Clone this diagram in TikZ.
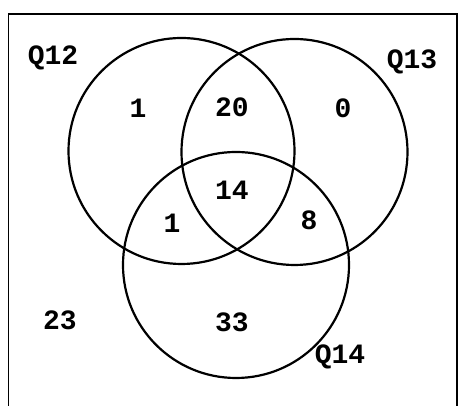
\documentclass[tikz,border=0pt]{standalone}
\usepackage{fontspec}
\newfontfamily\machine{Liberation Mono}
\tikzset{
  ensemble/.style={draw, circle, line width=2.2pt, minimum size=226pt, inner sep=0pt},
  effectif/.style={inner sep=0pt, font=\machine\bfseries\fontsize{28}{30}\selectfont},
}
\begin{document}
\begin{tikzpicture}[x=1pt, y=1pt]
	\useasboundingbox (0,0) rectangle (459,406);
	%Cadre
	\coordinate (BG) at (8.5,0);
	\coordinate (HG) at (8.5,392);
	\coordinate (HD) at (457,392);
	\coordinate (BD) at (457,0);
	\draw[line width=1.8pt] (BG) -- (HG) -- (HD) -- (BD);
	%Ensembles
	\node[ensemble] (C12) at (181.5,255) {};
	\node[ensemble] (C13) at (294.5,254) {};
	\node[ensemble] (C14) at (236,141) {};
	%Noms
	\node[effectif] (Q12) at (53,348) {Q12};
	\node[effectif] (Q13) at (412,344) {Q13};
	\node[effectif] (Q14) at (340,49) {Q14};
	%Effectifs
	\node[effectif] (N12) at (138,298) {1};
	\node[effectif] (N1213) at (232,299) {20};
	\node[effectif] (N13) at (343,298) {0};
	\node[effectif] (N121314) at (232,216) {14};
	\node[effectif] (N1214) at (172,183) {1};
	\node[effectif] (N1314) at (309,186) {8};
	\node[effectif] (N0) at (60,86) {23};
	\node[effectif] (N14) at (232,84) {33};
\end{tikzpicture}
\end{document}
